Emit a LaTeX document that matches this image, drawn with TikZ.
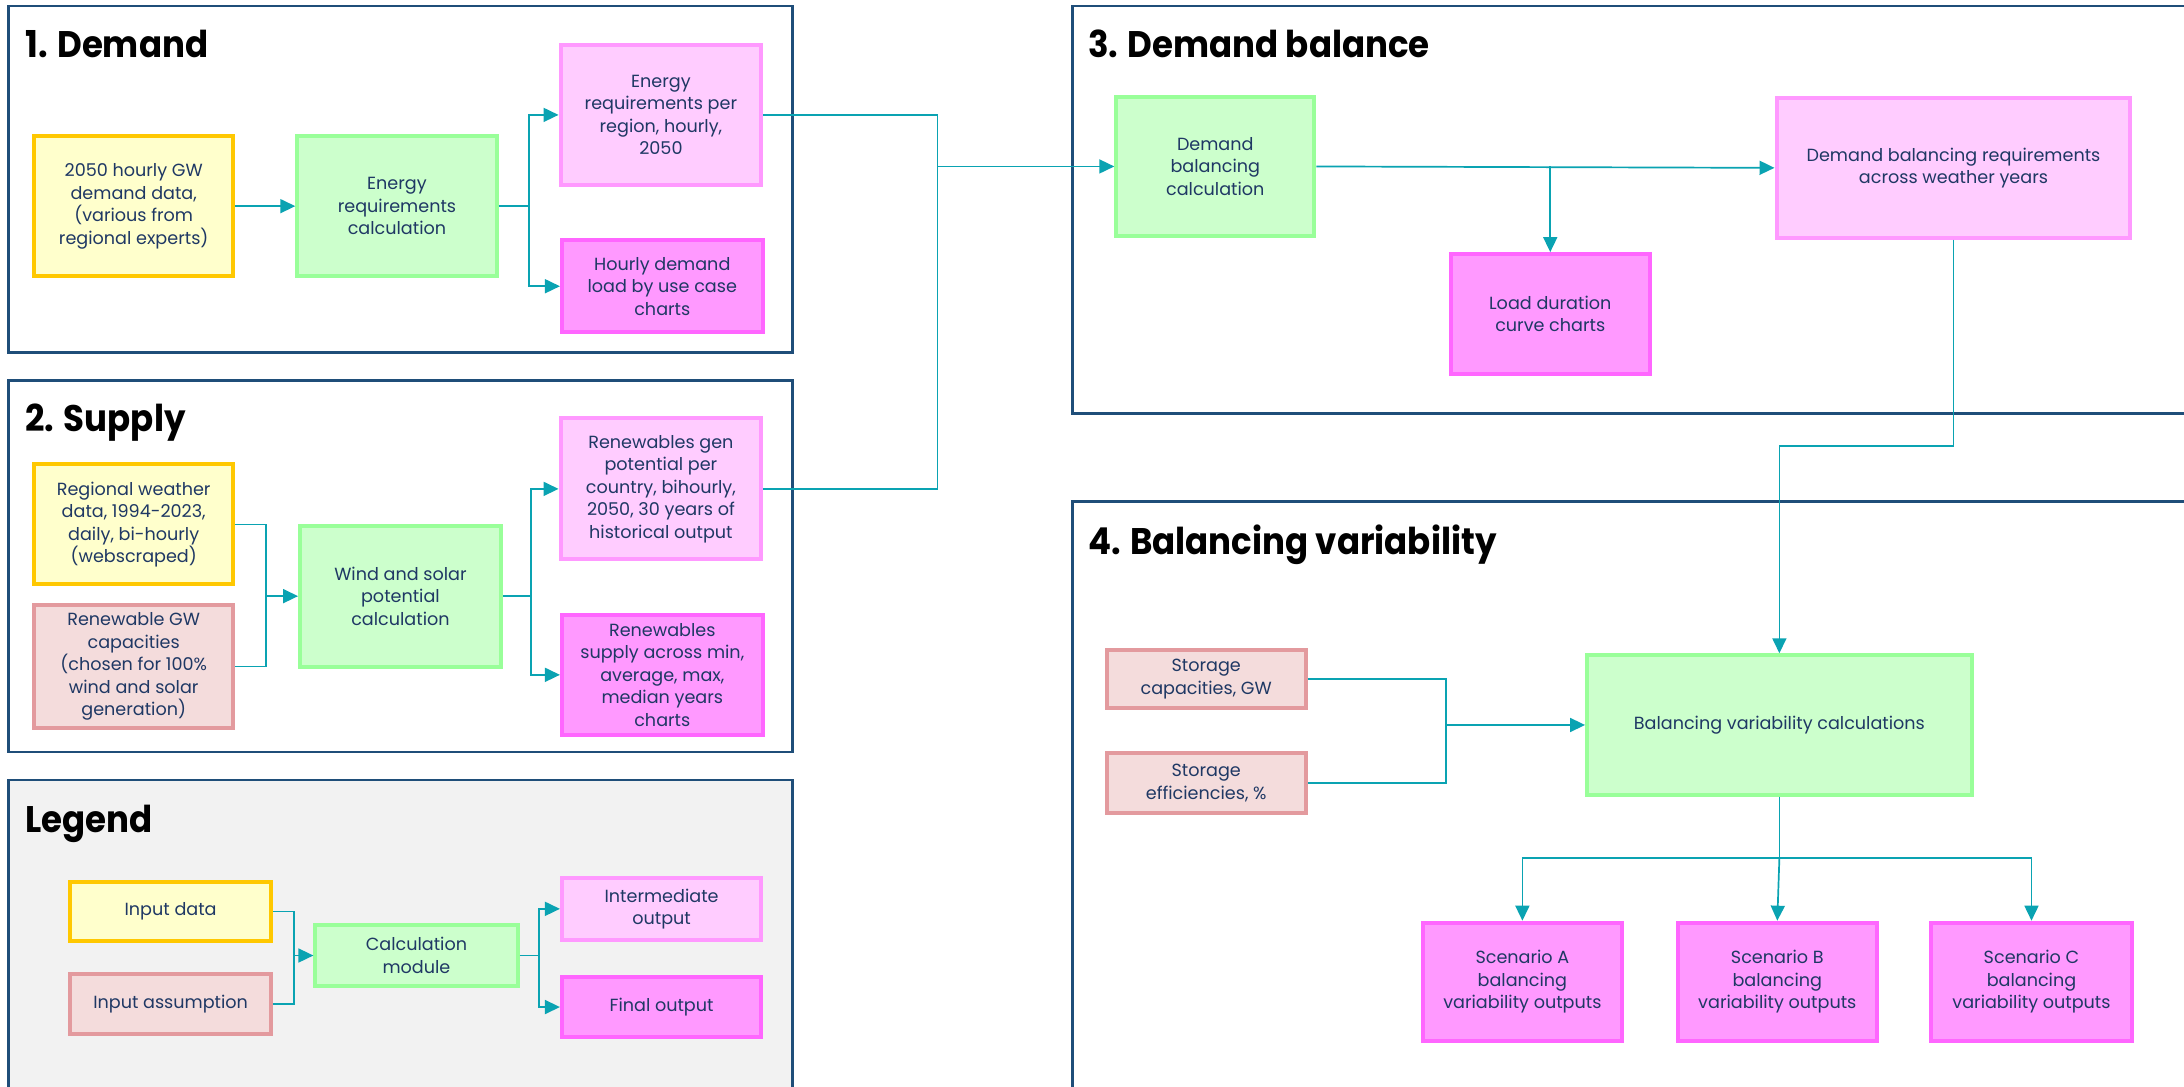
\documentclass[tikz,border=0pt]{standalone}
\usepackage{fontspec}
\setmainfont{Poppins}
\newfontfamily\headfont[FakeStretch=0.92]{Poppins}
\usetikzlibrary{arrows.meta,calc}
\definecolor{panelc}{HTML}{1F4E79}
\definecolor{legfill}{HTML}{F2F2F2}
\definecolor{txtc}{HTML}{1F3864}
\definecolor{ydraw}{HTML}{FFC800}
\definecolor{yfill}{HTML}{FFFFCC}
\definecolor{rdraw}{HTML}{E39A9E}
\definecolor{rfill}{HTML}{F4DCDC}
\definecolor{gdraw}{HTML}{99FF99}
\definecolor{gfill}{HTML}{CCFFCC}
\definecolor{pdraw}{HTML}{FF99FF}
\definecolor{pfill}{HTML}{FFCCFF}
\definecolor{mdraw}{HTML}{FF66FF}
\definecolor{mfill}{HTML}{FF99FF}
\definecolor{linkc}{HTML}{0AA3B2}
\tikzset{
  box/.style={line width=4pt, align=center, inner sep=0pt, text=txtc,
    font=\fontsize{17.6}{22.5}\selectfont},
  indata/.style={box, draw=ydraw, fill=yfill},
  inass/.style={box, draw=rdraw, fill=rfill},
  calcbox/.style={box, draw=gdraw, fill=gfill},
  interm/.style={box, draw=pdraw, fill=pfill},
  finalout/.style={box, draw=mdraw, fill=mfill},
  panelbox/.style={draw=panelc, line width=2.5pt},
  heading/.style={anchor=base west, inner sep=0pt, text=black,
    font=\headfont\fontsize{37}{44}\selectfont\bfseries},
  link/.style={draw=linkc, line width=1.7pt},
  conn/.style={link, -{Triangle[length=15pt,width=14pt]}},
}
\newcommand\bx[7]{\node[#1, minimum width={(#5-#3)*1.3929pt-4pt},
  minimum height={(#6-#4)*1.3929pt-4pt}] (#2) at ({(#3+#5)/2},{(#4+#6)/2}) {#7};}
\begin{document}
\begin{tikzpicture}[x=1.3929pt,y=-1.3929pt]
\clip (0,0) rectangle (1568,780.4);
\fill[white] (0,0) rectangle (1568,780.4);
% panels
\draw[panelbox] (6,4.3) rectangle (569,253);
\draw[panelbox] (6,273) rectangle (569,540);
\draw[panelbox, fill=legfill] (6,560) rectangle (569,800);
\draw[panelbox] (770,4.3) rectangle (1600,297);
\draw[panelbox] (770,360) rectangle (1600,800);
% headings
\node[heading] (h1) at (18,41.5) {1. Demand};
\node[heading] (h2) at (18,310) {2. Supply};
\node[heading] (hl) at (18,597.5) {Legend};
\node[heading] (h3) at (781,41.5) {3. Demand balance};
\node[heading] (h4) at (781,398) {4. Balancing variability};
% panel 1
\bx{indata}{dIn}{23}{96.5}{169}{199.5}{2050 hourly GW\\demand data,\\(various from\\regional experts)}
\bx{calcbox}{dCalc}{212}{96.5}{358}{199.5}{Energy\\requirements\\calculation}
\bx{interm}{dInt}{401}{31}{548}{134}{Energy\\requirements per\\region, hourly,\\2050}
\bx{finalout}{dFin}{402}{171}{549}{240}{Hourly demand\\load by use case\\charts}
% panel 2
\bx{indata}{sIn}{23}{332}{169}{421}{Regional weather\\data, 1994-2023,\\daily, bi-hourly\\(webscraped)}
\bx{inass}{sAs}{23}{433}{169}{524}{Renewable GW\\capacities\\(chosen for 100\%\\wind and solar\\generation)}
\bx{calcbox}{sCalc}{214}{376}{361}{480}{Wind and solar\\potential\\calculation}
\bx{interm}{sInt}{401}{299}{548}{403}{Renewables gen\\potential per\\country, bihourly,\\2050, 30 years of\\historical output}
\bx{finalout}{sFin}{402}{440}{549}{529}{Renewables\\supply across min,\\average, max,\\median years\\charts}
% legend
\bx{indata}{lIn}{49}{632}{196}{677}{Input data}
\bx{inass}{lAs}{49}{698}{196}{744}{Input assumption}
\bx{calcbox}{lCalc}{225}{663}{373}{709}{Calculation\\module}
\bx{interm}{lInt}{402}{629}{548}{676}{Intermediate\\output}
\bx{finalout}{lFin}{402}{700}{548}{746}{Final output}
% panel 3
\bx{calcbox}{bCalc}{800}{68}{945}{171}{Demand\\balancing\\calculation}
\bx{interm}{bReq}{1274}{69}{1531}{172}{Demand balancing requirements\\across weather years}
\bx{finalout}{bLdc}{1040}{181}{1186}{270}{Load duration\\curve charts}
% panel 4
\bx{inass}{vCap}{793}{465}{939}{510}{Storage\\capacities, GW}
\bx{inass}{vEff}{793}{539}{939}{585}{Storage\\efficiencies, \%}
\bx{calcbox}{vCalc}{1138}{469}{1417}{572}{Balancing variability calculations}
\bx{finalout}{vA}{1020}{661}{1166}{749}{Scenario A\\balancing\\variability outputs}
\bx{finalout}{vB}{1203}{661}{1349}{749}{Scenario B\\balancing\\variability outputs}
\bx{finalout}{vC}{1385}{661}{1532}{749}{Scenario C\\balancing\\variability outputs}
% junction points
\coordinate (j1) at (380,148);
\coordinate (j2) at (191,428);
\coordinate (j2o) at (381,428);
\coordinate (jl) at (211,686);
\coordinate (jlo) at (387,686);
\coordinate (m) at (673,119.5);
\coordinate (t4) at (1402.5,320);
\coordinate (j4) at (1038,520.5);
\coordinate (f4) at (1277.5,616);
% connectors panel 1
\draw[conn] (dIn) -- (dCalc);
\draw[link] (dCalc.east) -- (j1);
\draw[conn] (j1) |- (dInt.west);
\draw[conn] (j1) |- (dFin.west);
% panel 2
\draw[link] (sIn.east) -| (j2);
\draw[link] (sAs.east) -| (j2);
\draw[conn] (j2) -- (sCalc.west);
\draw[link] (sCalc.east) -- (j2o);
\draw[conn] (j2o) |- (sInt.west);
\draw[conn] (j2o) |- (sFin.west);
% legend
\draw[link] (lIn.east) -| (jl);
\draw[link] (lAs.east) -| (jl);
\draw[conn] (jl) -- (lCalc.west);
\draw[link] (lCalc.east) -- (jlo);
\draw[conn] (jlo) |- (lInt.west);
\draw[conn] (jlo) |- (lFin.west);
% to panel 3
\draw[link] (dInt.east) -| (m);
\draw[link] (sInt.east) -| (m);
\draw[conn] (m) -- (bCalc.west);
\draw[conn] (bCalc.east) -- (bReq.west);
\draw[conn] (bLdc.north |- bCalc.east) -- (bLdc.north);
% to panel 4
\draw[link] (bReq.south) -- (t4);
\draw[conn] (t4) -| (vCalc.north);
\draw[link] (vCap.east) -| (j4);
\draw[link] (vEff.east) -| (j4);
\draw[conn] (j4) -- (vCalc.west);
\draw[link] (vCalc.south) -- (f4);
\draw[conn] (f4) -| (vA.north);
\draw[conn] (f4) -- (vB.north);
\draw[conn] (f4) -| (vC.north);
\end{tikzpicture}
\end{document}
